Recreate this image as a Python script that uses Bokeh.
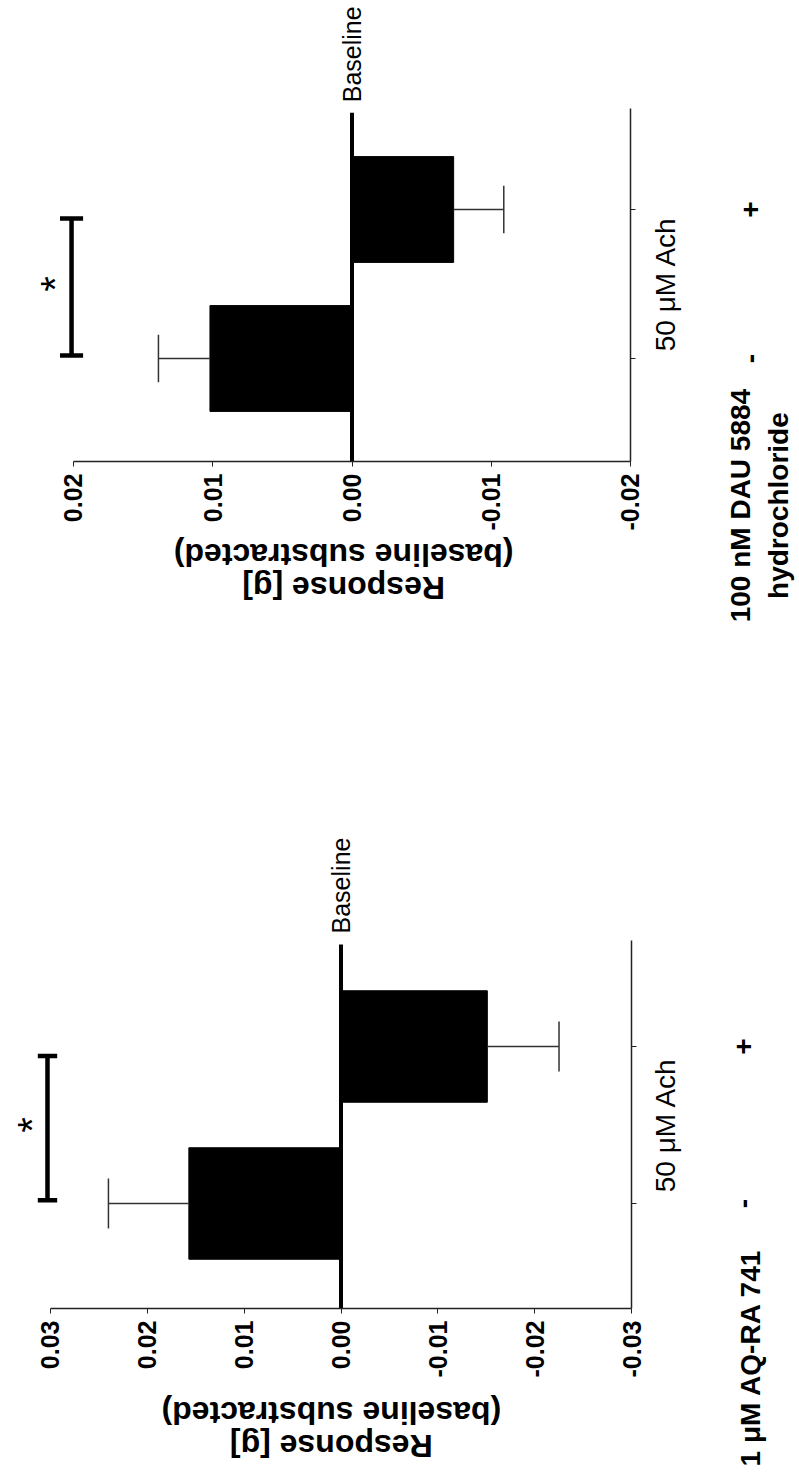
import math
from bokeh.plotting import figure
from bokeh.models import Range1d, FixedTicker, NumeralTickFormatter, Label
from bokeh.layouts import column
from bokeh.embed import file_html
from bokeh.resources import INLINE

# ---------------- data ----------------
categories = ["-", "+"]          # without / with the compound
cat_pos = [1, 2]
stimulus_label = "50 μM Ach"

top_compound = "100 nM DAU 5884\nhydrochloride"
top_values = [0.0102, -0.0073]
top_errors = [0.0037, 0.0036]
top_ticks = [0.02, 0.01, 0.0, -0.01, -0.02]

bot_compound = "1 μM AQ-RA 741"
bot_values = [0.0157, -0.0151]
bot_errors = [0.0083, 0.0074]
bot_ticks = [0.03, 0.02, 0.01, 0.0, -0.01, -0.02, -0.03]

y_title = "Response [g]\n(baseline substracted)"
baseline_label = "Baseline"
baseline_value = 0.0
sig_label = "*"

FONT = "Liberation Sans"
AXIS_TOP = 2.675
BASE_TOP = 2.65
WIDTH = 799


def ranges(g, height):
    # g: zero_px, px_per_unit, cat1_px, px_per_cat, fig_top_px
    x_start = g["zero_px"] / g["ppu"]
    x_end = (g["zero_px"] - WIDTH) / g["ppu"]
    y_top = 1 + (g["cat1_px"] - g["top"]) / g["ppc"]
    y_bot = 1 + (g["cat1_px"] - (g["top"] + height)) / g["ppc"]
    return (x_start, x_end), (y_bot, y_top)


def build(values, errors, ticks, compound, cfg, height):
    xr, yr = ranges(cfg["geom"], height)
    p = figure(x_range=Range1d(*xr), y_range=Range1d(*yr),
               width=WIDTH, height=height, min_border=0,
               min_border_left=0, min_border_right=0, min_border_top=0, min_border_bottom=0,
               y_axis_location="right", toolbar_location=None,
               output_backend="svg", background_fill_color="white",
               border_fill_color="white")
    p.grid.visible = False
    p.outline_line_color = None

    axis_y = cfg["axis_c"]
    xa = p.xaxis[0]
    xa.fixed_location = axis_y
    xa.ticker = FixedTicker(ticks=ticks)
    xa.formatter = NumeralTickFormatter(format="0.00")
    xa.bounds = (min(ticks), max(ticks))
    xa.major_label_orientation = math.pi / 2
    xa.major_label_text_font = FONT
    xa.major_label_text_font_size = "25px"
    xa.major_label_text_font_style = "bold"
    xa.major_label_text_color = "black"
    xa.major_label_standoff = 7
    xa.major_tick_out = 5
    xa.major_tick_in = 0
    xa.minor_tick_out = 0
    xa.minor_tick_in = 0
    xa.axis_line_width = 1.5
    xa.axis_line_color = "#222222"
    xa.major_tick_line_color = "#222222"

    ya = p.yaxis[0]
    ya.fixed_location = min(ticks)
    ya.ticker = FixedTicker(ticks=cat_pos)
    ya.major_label_overrides = {c: "" for c in cat_pos}
    ya.bounds = (axis_y, AXIS_TOP)
    ya.major_tick_out = 5
    ya.major_tick_in = 0
    ya.minor_tick_out = 0
    ya.minor_tick_in = 0
    ya.axis_line_width = 1.5
    ya.axis_line_color = "#222222"
    ya.major_tick_line_color = "#222222"

    # bars
    p.hbar(y=cat_pos, left=baseline_value, right=values, height=0.71,
           fill_color="black", line_color="black")

    # one-sided error bars
    ends = [v + math.copysign(e, v) for v, e in zip(values, errors)]
    p.segment(x0=values, y0=cat_pos, x1=ends, y1=cat_pos,
              line_width=1.5, line_color="#333333")
    p.segment(x0=ends, y0=[c - 0.16 for c in cat_pos], x1=ends,
              y1=[c + 0.16 for c in cat_pos], line_width=1.5, line_color="#333333")

    # baseline line
    p.segment(x0=[baseline_value], y0=[axis_y], x1=[baseline_value], y1=[BASE_TOP],
              line_width=4, line_color="black")
    p.add_layout(Label(x=baseline_value, y=2.72, text=baseline_label, angle=math.pi / 2,
                       text_align="left", text_baseline="middle", text_font=FONT,
                       text_font_size="25px", text_color="black"))

    # significance bracket
    bx, hw = cfg["bx"], cfg["bhw"]
    y0, y1 = cat_pos[0] + 0.02, cat_pos[1] - 0.06
    p.segment(x0=[bx, bx - hw, bx - hw], y0=[y0, y0, y1], x1=[bx, bx + hw, bx + hw],
              y1=[y1, y0, y1], line_width=4.5, line_color="black")
    p.add_layout(Label(x=cfg["star_x"], y=1.5, text=sig_label, angle=math.pi / 2,
                       text_align="center", text_baseline="middle", text_font=FONT,
                       text_font_size="40px", text_color="black"))

    # category annotations
    p.add_layout(Label(x=cfg["stim_x"], y=1.5, text=stimulus_label, angle=math.pi / 2,
                       text_align="center", text_baseline="middle", text_font=FONT,
                       text_font_size="28px", text_color="black"))
    for c, lab in zip(cat_pos, categories):
        p.add_layout(Label(x=cfg["pm_x"], y=c, text=lab, angle=math.pi / 2,
                           text_align="center", text_baseline="middle", text_font=FONT,
                           text_font_size="28px", text_font_style="bold",
                           text_color="black"))
    p.add_layout(Label(x=cfg["comp_x"], y=cfg["comp_y"], text=compound, angle=math.pi / 2,
                       text_align="center", text_baseline="middle", text_font=FONT,
                       text_font_size="28px", text_font_style="bold",
                       text_line_height=1.25, text_color="black"))

    # value axis title (upside down as in the source figure)
    p.add_layout(Label(x=cfg["title_x"], y=cfg["title_y"], text=y_title, angle=math.pi,
                       text_align="center", text_baseline="middle", text_font=FONT,
                       text_font_size="32px", text_font_style="bold",
                       text_line_height=0.9, text_color="black"))
    return p


TOP_H = 700
BOT_H = 772

top_cfg = dict(geom=dict(zero_px=351.5, ppu=13925.0, cat1_px=358.0, ppc=149.0, top=0),
               axis_c=0.3087, bx=0.02014, bhw=0.00083, star_x=0.02136,
               stim_x=-0.02251, pm_x=-0.02862, comp_x=-0.02926, comp_y=0.013,
               title_x=0.0006, title_y=-0.43)
bot_cfg = dict(geom=dict(zero_px=340.5, ppu=9690.0, cat1_px=1203.0, ppc=157.0, top=TOP_H),
               axis_c=0.3312, bx=0.03029, bhw=0.001, star_x=0.03194,
               stim_x=-0.03349, pm_x=-0.04154, comp_x=-0.04226, comp_y=0.019,
               title_x=0.001, title_y=-0.44)

p_top = build(top_values, top_errors, top_ticks, top_compound, top_cfg, TOP_H)
p_bot = build(bot_values, bot_errors, bot_ticks, bot_compound, bot_cfg, BOT_H)

layout = column(p_top, p_bot, spacing=0)
open("out.html", "w").write(file_html(layout, INLINE))
